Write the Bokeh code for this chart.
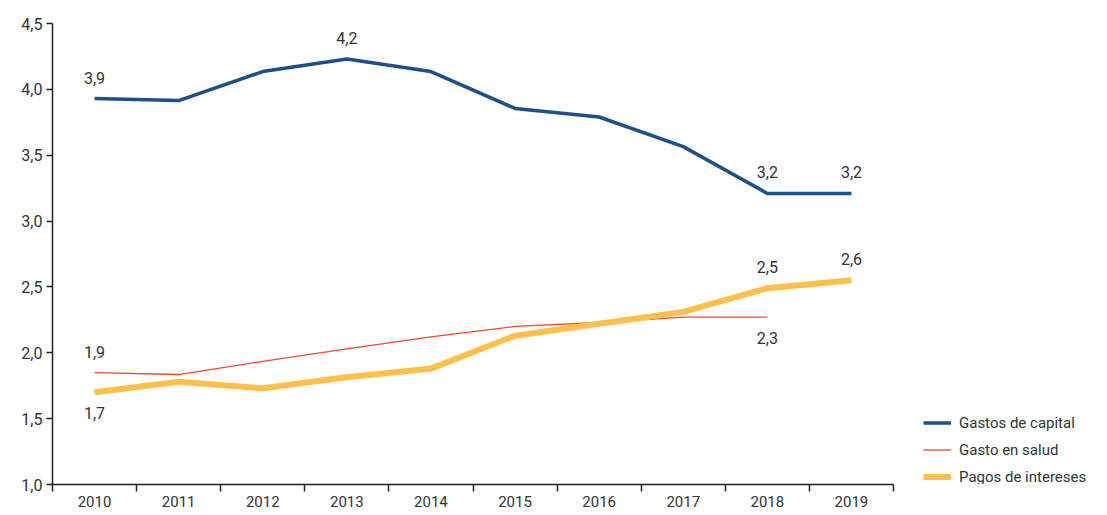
from bokeh.plotting import figure
from bokeh.models import FixedTicker, Legend, LegendItem, ColumnDataSource, Range1d
from bokeh.core.properties import value
from bokeh.embed import file_html
from bokeh.resources import INLINE

years = ["2010", "2011", "2012", "2013", "2014", "2015", "2016", "2017", "2018", "2019"]
gastos_capital = [3.93, 3.915, 4.135, 4.23, 4.135, 3.855, 3.79, 3.565, 3.21, 3.21]
gasto_salud = [1.85, 1.835, 1.935, 2.03, 2.12, 2.20, 2.23, 2.27, 2.27]
pagos_intereses = [1.70, 1.78, 1.73, 1.815, 1.88, 2.13, 2.22, 2.31, 2.49, 2.55]

y_ticks = [1.0, 1.5, 2.0, 2.5, 3.0, 3.5, 4.0, 4.5]
y_tick_labels = ["1,0", "1,5", "2,0", "2,5", "3,0", "3,5", "4,0", "4,5"]

# annotations: (series, year index, text, position)
ann_series = ["capital", "capital", "capital", "capital", "salud", "intereses", "salud", "intereses", "intereses"]
ann_index = [0, 3, 8, 9, 0, 0, 8, 8, 9]
ann_text = ["3,9", "4,2", "3,2", "3,2", "1,9", "1,7", "2,3", "2,5", "2,6"]
ann_pos = ["above", "above", "above", "above", "above", "below", "below", "above", "above"]

FONT = "Roboto"
TXT = "#333333"
C_CAP = "#1d4f8b"
C_SAL = "#ec4a33"
C_INT = "#fdc04b"

n = len(years)
xc = [i + 0.5 for i in range(n)]

W, H = 1100, 513
BL, BR = 52, 2
CAT_PX = 84.1
x_max = (W - BL - BR) / CAT_PX  # extra room on the right for the legend

p = figure(width=W, height=H, output_backend="svg", toolbar_location=None,
           x_range=Range1d(0, x_max), y_range=Range1d(1.0, 4.5),
           min_border_left=BL, min_border_right=BR, min_border_top=23, min_border_bottom=29)
p.outline_line_color = None
p.grid.visible = False
p.background_fill_color = "white"

r_cap = p.line(xc, gastos_capital, line_color=C_CAP, line_width=3.5)
r_sal = p.line(xc[:len(gasto_salud)], gasto_salud, line_color=C_SAL, line_width=1.3)
r_int = p.line(xc, pagos_intereses, line_color=C_INT, line_width=6)

series = {"capital": gastos_capital, "salud": gasto_salud, "intereses": pagos_intereses}
ax, ay, aoff = [], [], []
for s, i, t, pos in zip(ann_series, ann_index, ann_text, ann_pos):
    ax.append(xc[i])
    ay.append(series[s][i])
    aoff.append(-21 if pos == "above" else 21)
src = ColumnDataSource(dict(x=ax, y=ay, text=ann_text, yo=aoff))
p.text(x="x", y="y", text="text", source=src, y_offset="yo", text_align="center",
       text_baseline="middle", text_font=value(FONT), text_font_size="16px", text_color=TXT)

# x axis: labels at category centers, ticks at boundaries
xa = p.xaxis[0]
xa.bounds = (0, n)
xa.ticker = FixedTicker(ticks=xc, minor_ticks=list(range(n + 1)))
xa.major_label_overrides = {v: y for v, y in zip(xc, years)}
xa.major_tick_line_color = None
xa.minor_tick_line_color = "#222222"
xa.minor_tick_out = 7
xa.minor_tick_in = 0
xa.minor_tick_line_width = 1.5
xa.axis_line_color = "#222222"
xa.axis_line_width = 1.5
xa.major_label_standoff = 4
xa.major_label_text_font = FONT
xa.major_label_text_font_size = "15px"
xa.major_label_text_color = TXT

ya = p.yaxis[0]
ya.ticker = FixedTicker(ticks=y_ticks, minor_ticks=[])
ya.major_label_overrides = {v: t for v, t in zip(y_ticks, y_tick_labels)}
ya.major_tick_out = 6
ya.major_tick_in = 0
ya.major_tick_line_color = "#222222"
ya.major_tick_line_width = 1.5
ya.axis_line_color = "#222222"
ya.axis_line_width = 1.5
ya.major_label_standoff = 4
ya.major_label_text_font = FONT
ya.major_label_text_font_size = "16px"
ya.major_label_text_color = TXT

legend = Legend(items=[LegendItem(label="Gastos de capital", renderers=[r_cap]),
                       LegendItem(label="Gasto en salud", renderers=[r_sal]),
                       LegendItem(label="Pagos de intereses", renderers=[r_int])],
                location=(871, -2), orientation="vertical")
legend.border_line_color = None
legend.background_fill_alpha = 0
legend.glyph_width = 28
legend.glyph_height = 19
legend.label_height = 19
legend.spacing = 8
legend.padding = 0
legend.margin = 0
legend.label_standoff = 8
legend.label_text_font = FONT
legend.label_text_font_size = "15px"
legend.label_text_color = TXT
p.add_layout(legend, "center")

open("out.html", "w").write(file_html(p, INLINE))
